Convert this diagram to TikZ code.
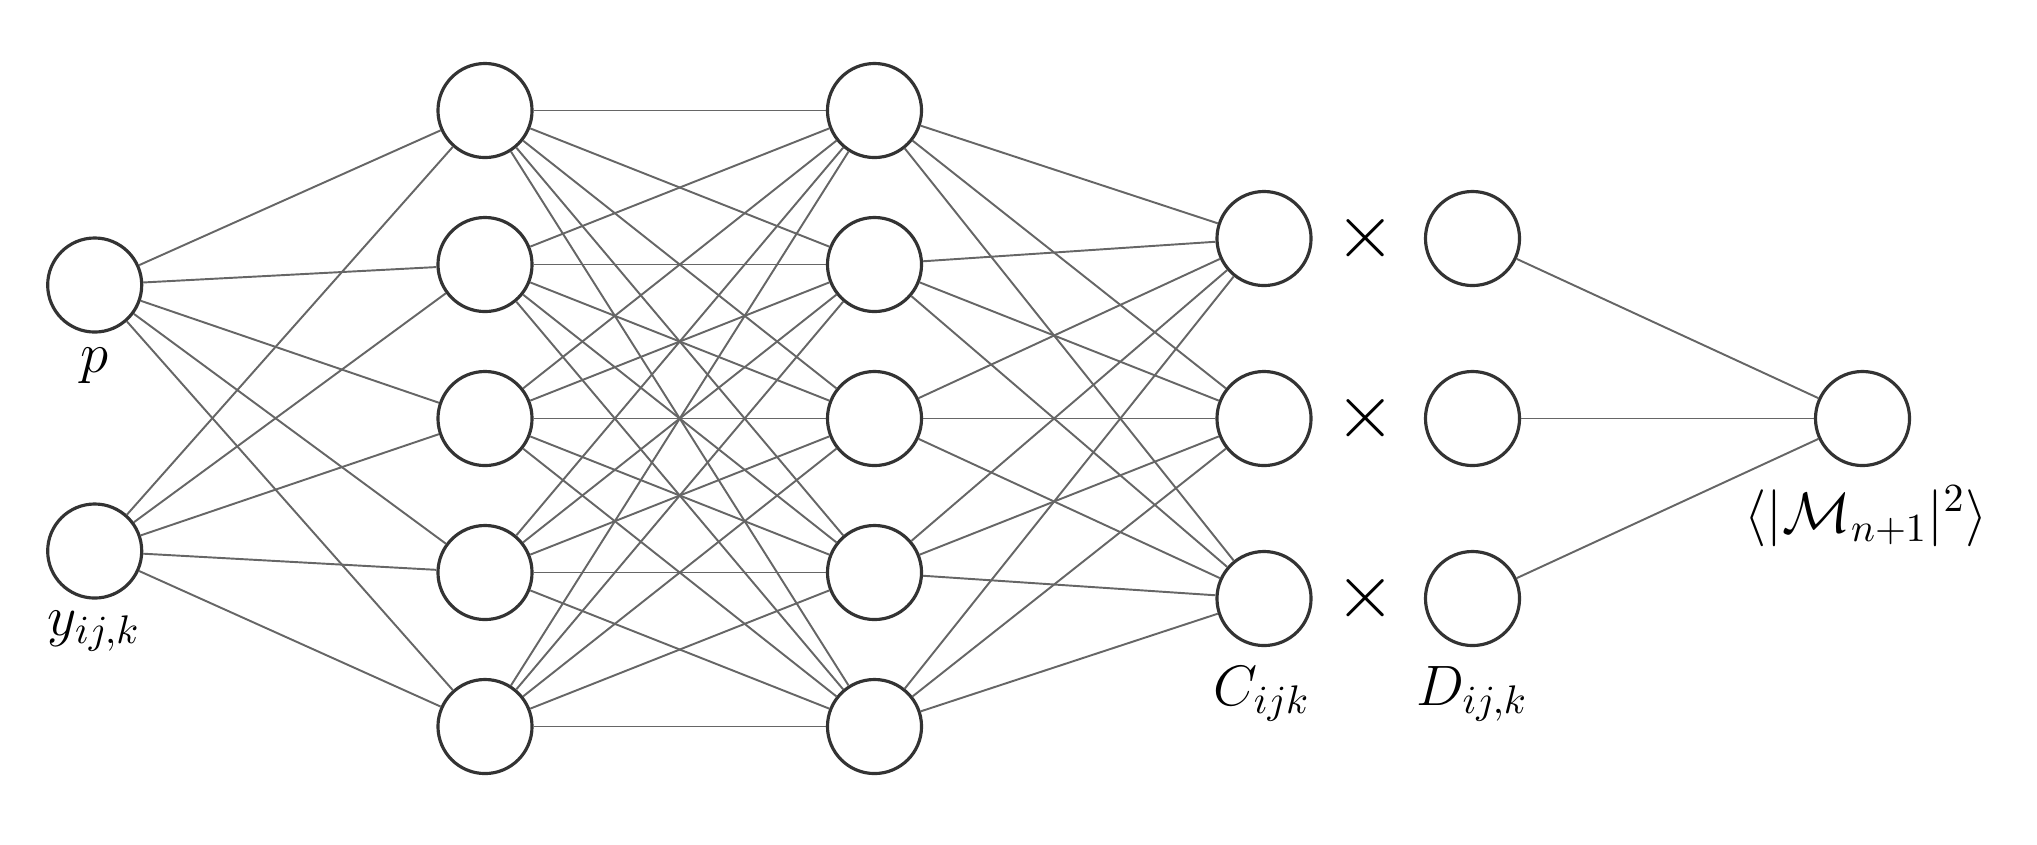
\documentclass[tikz,border=0pt]{standalone}
\usepackage{fix-cm}
\begin{document}
\begin{tikzpicture}[x=0.01cm,y=-0.01cm,
  neuron/.style={circle,draw=black!80,line width=0.9pt,fill=white,minimum size=0.94cm,inner sep=0pt},
  conn/.style={draw=black!60,line width=0.55pt},
  lab/.style={anchor=base,inner sep=0pt,font=\fontsize{16.2}{19}\selectfont},
  crosssym/.style={inner sep=0pt,font=\fontsize{22}{26}\selectfont}]
\useasboundingbox (0,0) rectangle (2037,844);
% input layer
\node[neuron] (i1) at (94.7,285) {};
\node[neuron] (i2) at (94.7,551) {};
% hidden layers
\foreach \k/\y in {1/110.5,2/264.5,3/418.5,4/572.5,5/726.5} {
  \node[neuron] (a\k) at (485,\y) {};
  \node[neuron] (b\k) at (874.5,\y) {};
}
% C and D layers
\foreach \k/\y in {1/238.5,2/418.5,3/598.5} {
  \node[neuron] (c\k) at (1264,\y) {};
  \node[neuron] (d\k) at (1472.5,\y) {};
  \node[crosssym] (x\k) at (1366,\y) {$\times$};
}
% output
\node[neuron] (o) at (1862.5,418.5) {};
% connectors
\foreach \i in {1,2} \foreach \j in {1,...,5} \draw[conn] (i\i) -- (a\j);
\foreach \i in {1,...,5} \foreach \j in {1,...,5} \draw[conn] (a\i) -- (b\j);
\foreach \i in {1,...,5} \foreach \j in {1,2,3} \draw[conn] (b\i) -- (c\j);
\foreach \j in {1,2,3} \draw[conn] (d\j) -- (o);
% labels
\node[lab] (lp) at (94,372) {$p$};
\node[lab] (ly) at (94,635) {$y_{ij,k}$};
\node[lab] (lc) at (1262,705) {$C_{ijk}$};
\node[lab] (ld) at (1472,705) {$D_{ij,k}$};
\node[lab] (lo) at (1866,532.6) {$\langle|\mathcal{M}_{n+1}|^2\rangle$};
\end{tikzpicture}
\end{document}
